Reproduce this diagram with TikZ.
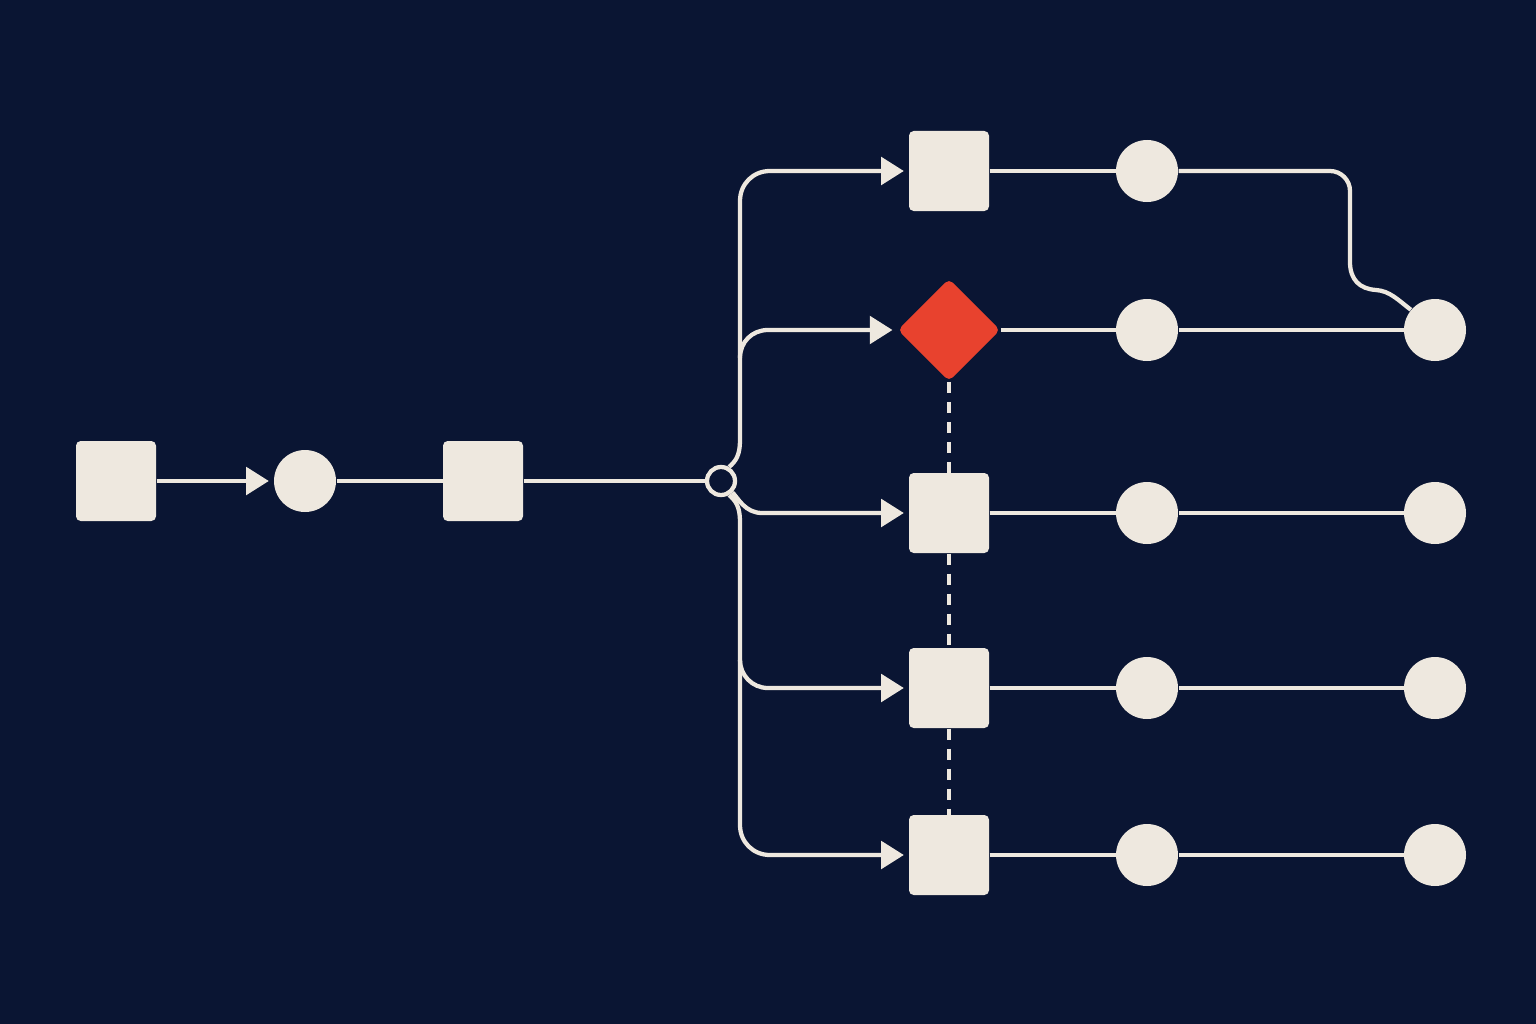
\documentclass[tikz,border=0pt]{standalone}
\usetikzlibrary{arrows.meta,shapes.geometric}
\definecolor{navy}{RGB}{10,21,51}
\definecolor{cream}{RGB}{238,232,223}
\definecolor{signal}{RGB}{232,66,46}
\tikzset{every picture/.style={line width=0.75pt}}
\tikzset{
  box/.style={rectangle,rounded corners=3.5pt,fill=cream,minimum size=60pt,inner sep=0pt},
  dot/.style={circle,fill=cream,minimum size=46.5pt,inner sep=0pt},
  gate/.style={diamond,rounded corners=4pt,fill=signal,minimum size=77pt,inner sep=0pt},
  hub/.style={circle,draw=cream,fill=navy,line width=3.2pt,minimum size=21pt,inner sep=0pt},
  link/.style={draw=cream,line width=3.2pt},
  flow/.style={link,-{Triangle[length=17pt,width=20.5pt]},shorten >=3.5pt},
  tie/.style={draw=cream,line width=3.4pt,dash pattern=on 8.5pt off 6.5pt},
}
\begin{document}
\begin{tikzpicture}[x=0.75pt,y=0.75pt,yscale=-1,xscale=1]
	\useasboundingbox (0,0) rectangle (1536,1024);
	\fill [navy] (0,0) rectangle (1536,1024);

	%input chain
	\node [box] (src) at (116,481) {};
	\node [dot] (pre) at (305,481) {};
	\node [box] (mix) at (483,481) {};
	\node [hub] (split) at (721,481) {};

	%branch targets
	\node [box] (t1) at (949,171) {};
	\node [gate] (t2) at (949,330) {};
	\node [box] (t3) at (949,513) {};
	\node [box] (t4) at (949,688) {};
	\node [box] (t5) at (949,855) {};

	%stages
	\foreach \i/\y in {1/171,2/330,3/513,4/688,5/855}
		\node [dot] (m\i) at (1147,\y) {};
	\foreach \i/\y in {2/330,3/513,4/688,5/855}
		\node [dot] (e\i) at (1435,\y) {};

	\coordinate (b2) at (740,358);
	\coordinate (b4) at (740,660);

	\draw [flow] (src) -- (pre);
	\draw [link] (pre) -- (mix);
	\draw [link] (mix) -- (split);

	%bus with branches
	\draw [flow] (split.60) .. controls (736,461) and (740,455) .. (740,440) -- (740,201) .. controls (740,184) and (753,171) .. (770,171) -- (t1);
	\draw [flow] (b2) .. controls (740,342) and (752,330) .. (768,330) -- (t2);
	\draw [flow] (split.-45) .. controls (738,498) and (745,513) .. (762,513) -- (t3);
	\draw [flow] (b4) .. controls (740,675) and (752,688) .. (768,688) -- (t4);
	\draw [flow] (split.-60) .. controls (736,501) and (740,507) .. (740,522) -- (740,825) .. controls (740,842) and (753,855) .. (770,855) -- (t5);

	%right side
	\draw [link] (t1) -- (m1);
	\draw [link] (m1) -- (1330,171) .. controls (1341,171) and (1350,180) .. (1350,191) -- (1350,262) .. controls (1350,280) and (1360,289) .. (1376,290) .. controls (1390,291) and (1398,300) .. (e2.140);
	\foreach \i in {2,3,4,5} {
		\draw [link] (t\i) -- (m\i);
		\draw [link] (m\i) -- (e\i);
	}

	\draw [tie] (t2) -- (t3);
	\draw [tie] (t3) -- (t4);
	\draw [tie] (t4) -- (t5);
\end{tikzpicture}
\end{document}
